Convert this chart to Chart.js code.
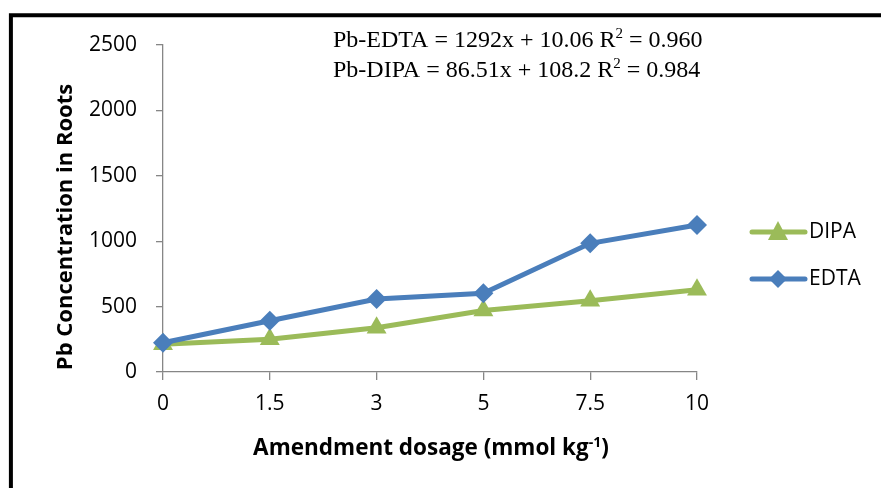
<!DOCTYPE html>
<html>
<head>
<meta charset="utf-8">
<script src="https://cdn.jsdelivr.net/npm/chart.js@4.4.1/dist/chart.umd.min.js"></script>
<style>
  html, body { margin: 0; padding: 0; background: #ffffff; }
  #wrap { width: 881px; height: 488px; }
</style>
</head>
<body>
<div id="wrap"><canvas id="chart" width="881" height="488"></canvas></div>
<script>
// Amendment dosages (mmol kg-1) and Pb concentration in roots
const dosages = ['0', '1.5', '3', '5', '7.5', '10'];
const dipaValues = [212, 250, 339, 470, 545, 629];
const edtaValues = [224, 392, 558, 602, 984, 1124];
const yTicks = [0, 500, 1000, 1500, 2000, 2500];

const BLUE = '#4A7EBB';
const GREEN = '#9BBB59';
const AXIS = '#868686';
const SANS = '"Open Sans", Lato, sans-serif';
const SERIF = '"Liberation Serif", "DejaVu Serif", serif';

// Draw a run of text pieces, some of them raised as superscripts
function drawRuns(ctx, runs, x, y, align) {
  let total = 0;
  runs.forEach(r => { ctx.font = r.font; total += ctx.measureText(r.text).width; });
  let cx = align === 'center' ? x - total / 2 : x;
  ctx.textAlign = 'left';
  ctx.textBaseline = 'alphabetic';
  runs.forEach(r => {
    ctx.font = r.font;
    ctx.fillText(r.text, cx, y - (r.rise || 0));
    cx += ctx.measureText(r.text).width;
  });
}

const decorations = {
  id: 'decorations',
  afterDraw(chart) {
    const ctx = chart.ctx;
    const area = chart.chartArea;
    ctx.save();
    ctx.fillStyle = '#000';

    // frame
    ctx.strokeStyle = '#000';
    ctx.lineWidth = 4;
    ctx.beginPath();
    ctx.moveTo(881, 15.3);
    ctx.lineTo(10.9, 15.3);
    ctx.lineTo(10.9, 488);
    ctx.stroke();

    // regression equations
    const eqFont = '24px ' + SERIF;
    const supFont = '15px ' + SERIF;
    drawRuns(ctx, [
      { text: 'Pb-EDTA = 1292x + 10.06 R', font: eqFont },
      { text: '2', font: supFont, rise: 9 },
      { text: ' = 0.960', font: eqFont }
    ], 333, 47, 'left');
    drawRuns(ctx, [
      { text: 'Pb-DIPA = 86.51x + 108.2 R', font: eqFont },
      { text: '2', font: supFont, rise: 9 },
      { text: ' = 0.984', font: eqFont }
    ], 333, 77, 'left');

    // x axis title
    drawRuns(ctx, [
      { text: 'Amendment dosage (mmol kg', font: 'bold 22.5px ' + SANS },
      { text: '-1', font: 'bold 14px ' + SANS, rise: 8 },
      { text: ')', font: 'bold 22.5px ' + SANS }
    ], (area.left + area.right) / 2 + 1, 455, 'center');

    // y axis title
    ctx.save();
    ctx.translate(72, 227);
    ctx.rotate(-Math.PI / 2);
    ctx.font = 'bold 22px ' + SANS;
    ctx.textAlign = 'center';
    ctx.textBaseline = 'alphabetic';
    ctx.fillText('Pb Concentration in Roots', 0, 0);
    ctx.restore();

    // legend
    const entries = [chart.data.datasets[0], chart.data.datasets[1]];
    const rows = [232, 279];
    entries.forEach((ds, i) => {
      const y = rows[i];
      ctx.strokeStyle = ds.borderColor;
      ctx.lineWidth = 5;
      ctx.lineCap = 'round';
      ctx.beginPath();
      ctx.moveTo(752, y);
      ctx.lineTo(805, y);
      ctx.stroke();
      ctx.fillStyle = ds.borderColor;
      ctx.beginPath();
      if (ds.pointStyle === 'triangle') {
        ctx.moveTo(778, y - 11);
        ctx.lineTo(788, y + 8);
        ctx.lineTo(768, y + 8);
      } else {
        ctx.moveTo(778, y - 9);
        ctx.lineTo(787, y);
        ctx.lineTo(778, y + 9);
        ctx.lineTo(769, y);
      }
      ctx.closePath();
      ctx.fill();
      ctx.fillStyle = '#000';
      ctx.font = '21px ' + SANS;
      ctx.textAlign = 'left';
      ctx.textBaseline = 'middle';
      ctx.fillText(ds.label, 809, y);
    });
    ctx.restore();
  }
};

new Chart(document.getElementById('chart'), {
  type: 'line',
  data: {
    labels: dosages,
    datasets: [
      {
        label: 'DIPA',
        data: dipaValues,
        borderColor: GREEN,
        backgroundColor: GREEN,
        borderWidth: 5,
        pointStyle: 'triangle',
        pointRadius: 11.5,
        pointHoverRadius: 11.5,
        pointBorderWidth: 0,
        pointBackgroundColor: GREEN,
        tension: 0,
        order: 2
      },
      {
        label: 'EDTA',
        data: edtaValues,
        borderColor: BLUE,
        backgroundColor: BLUE,
        borderWidth: 5,
        pointStyle: 'rectRot',
        pointRadius: 10,
        pointHoverRadius: 10,
        pointBorderWidth: 0,
        pointBackgroundColor: BLUE,
        tension: 0,
        order: 1
      }
    ]
  },
  options: {
    responsive: false,
    animation: false,
    devicePixelRatio: 1,
    layout: { padding: { left: 0, right: 184, top: 45, bottom: 0 } },
    plugins: {
      legend: { display: false },
      tooltip: { enabled: false },
      title: { display: false }
    },
    scales: {
      x: {
        type: 'category',
        offset: false,
        grid: { display: true, drawOnChartArea: false, drawTicks: true, tickLength: 8, color: AXIS, lineWidth: 1.3 },
        border: { display: true, color: AXIS, width: 1.3 },
        ticks: { color: '#000', font: { family: SANS, size: 21 }, padding: 11, maxRotation: 0, autoSkip: false },
        afterFit(scale) { scale.height = 116; }
      },
      y: {
        min: 0,
        max: 2500,
        afterBuildTicks(scale) { scale.ticks = yTicks.map(v => ({ value: v })); },
        grid: { display: true, drawOnChartArea: false, drawTicks: true, tickLength: 7, color: AXIS, lineWidth: 1.3 },
        border: { display: true, color: AXIS, width: 1.3 },
        ticks: { color: '#000', font: { family: SANS, size: 21 }, padding: 19, callback: v => String(v) },
        afterFit(scale) { scale.width = 163; }
      }
    }
  },
  plugins: [decorations]
});
</script>
</body>
</html>
